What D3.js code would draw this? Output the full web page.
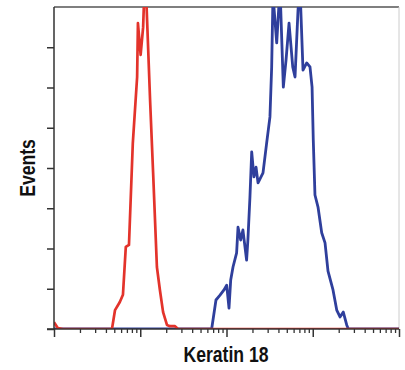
<!DOCTYPE html>
<html>
<head>
<meta charset="utf-8">
<script src="https://cdn.jsdelivr.net/npm/d3@7"></script>
<style>
  body { margin: 0; background: #fff; }
  .lbl { font-family: "Liberation Sans", Arial, sans-serif; font-weight: bold; font-size: 22px; fill: #111; }
</style>
</head>
<body>
<div id="chart"></div>
<script>
// histogram values (intensity, events)
const redX = [1, 1.11, 1.27, 4.7, 5.1, 5.8, 6.3, 6.8, 7.4, 8.2, 9.2, 9.4, 10.1, 10.8, 11.4, 12.0, 13.0, 14.1, 15.6, 16.9, 18.4, 20.4, 22.1, 25.3, 27.4, 10000];
const redY = [17, 2, 0, 0, 47, 67, 85, 204, 209, 462, 626, 760, 681, 750, 900, 768, 569, 388, 154, 97, 42, 10, 7, 7, 0, 0];

const blueX = [1, 67.3, 75.5, 84.1, 93.5, 100.5, 106.9, 111.9, 119, 131, 136, 146, 155, 171, 177, 187, 196, 208, 220, 232, 265, 292, 319, 334, 346, 382, 417, 456, 490, 531, 586, 623, 675, 711, 771, 851, 929, 982, 1014, 1061, 1151, 1270, 1388, 1503, 1718, 1897, 2070, 2261, 2476, 2585, 10000];
const blueY = [0, 0, 72, 84, 97, 109, 52, 122, 154, 189, 253, 221, 246, 171, 221, 328, 440, 378, 402, 363, 388, 462, 527, 651, 830, 711, 850, 601, 668, 760, 651, 626, 793, 850, 643, 661, 651, 601, 470, 333, 303, 239, 214, 144, 97, 47, 30, 42, 10, 0, 0];

const yTicks = [0, 100, 200, 300, 400, 500, 600, 700];
const xMajor = [1, 10, 100, 1000, 10000];

const width = 405, height = 370;
const mLeft = 54, mRight = 399, mTop = 7, mBottom = 329;

const svg = d3.select('#chart').append('svg')
  .attr('width', width)
  .attr('height', height);

const x = d3.scaleLog().domain([1, 10000]).range([mLeft, mRight]);
const y = d3.scaleLinear().domain([0, 800]).range([mBottom, mTop]);

svg.append('clipPath').attr('id', 'plot')
  .append('rect')
  .attr('x', mLeft).attr('y', mTop)
  .attr('width', mRight - mLeft).attr('height', mBottom - mTop);

// frame
svg.append('line').attr('x1', mLeft).attr('x2', mRight).attr('y1', mTop).attr('y2', mTop)
  .attr('stroke', '#555').attr('stroke-width', 1.5);
svg.append('line').attr('x1', mRight).attr('x2', mRight).attr('y1', mTop).attr('y2', mBottom)
  .attr('stroke', '#ccc').attr('stroke-width', 1);

const line = d3.line()
  .x(d => x(d[0]))
  .y(d => y(d[1]));

const curves = svg.append('g').attr('clip-path', 'url(#plot)');
curves.append('path')
  .datum(d3.zip(blueX, blueY))
  .attr('d', line)
  .attr('fill', 'none')
  .attr('stroke', '#2f3f9c')
  .attr('stroke-width', 2.8)
  .attr('stroke-linejoin', 'round');
curves.append('path')
  .datum(d3.zip(redX, redY))
  .attr('d', line)
  .attr('fill', 'none')
  .attr('stroke', '#e3332b')
  .attr('stroke-width', 2.7)
  .attr('stroke-linejoin', 'round');

// y axis, ticks only
svg.append('g')
  .attr('transform', `translate(${mLeft},0)`)
  .call(d3.axisLeft(y).tickValues(yTicks).tickSize(7).tickFormat(''))
  .call(g => g.select('.domain').attr('stroke', '#333').attr('stroke-width', 1.5).attr('d', `M-7,${mBottom}H0V${mTop}`))
  .call(g => g.selectAll('.tick line').attr('stroke', '#333').attr('stroke-width', 1.5));

// x axis, log decades with minor ticks
const xMinor = [];
for (let i = 0; i < xMajor.length - 1; i++) {
  for (let k = 2; k <= 9; k++) xMinor.push(xMajor[i] * k);
}
svg.append('g')
  .attr('transform', `translate(0,${mBottom})`)
  .call(d3.axisBottom(x).tickValues(xMinor).tickSize(4).tickFormat(''))
  .call(g => g.select('.domain').remove())
  .call(g => g.selectAll('.tick line').attr('stroke', '#333').attr('stroke-width', 1.3));
svg.append('g')
  .attr('transform', `translate(0,${mBottom})`)
  .call(d3.axisBottom(x).tickValues(xMajor).tickSize(8).tickFormat(''))
  .call(g => g.select('.domain').attr('stroke', '#333').attr('stroke-width', 1.5).attr('d', `M${mLeft},0H${mRight}`))
  .call(g => g.selectAll('.tick line').attr('stroke', '#333').attr('stroke-width', 1.5));

// condensed bold labels: squeeze a regular bold face horizontally
svg.append('text')
  .attr('class', 'lbl')
  .attr('transform', 'translate(226,362) scale(0.8,1)')
  .attr('text-anchor', 'middle')
  .text('Keratin 18');

svg.append('text')
  .attr('class', 'lbl')
  .attr('transform', 'translate(35,168) rotate(-90) scale(0.8,1)')
  .attr('text-anchor', 'middle')
  .text('Events');
</script>
</body>
</html>
